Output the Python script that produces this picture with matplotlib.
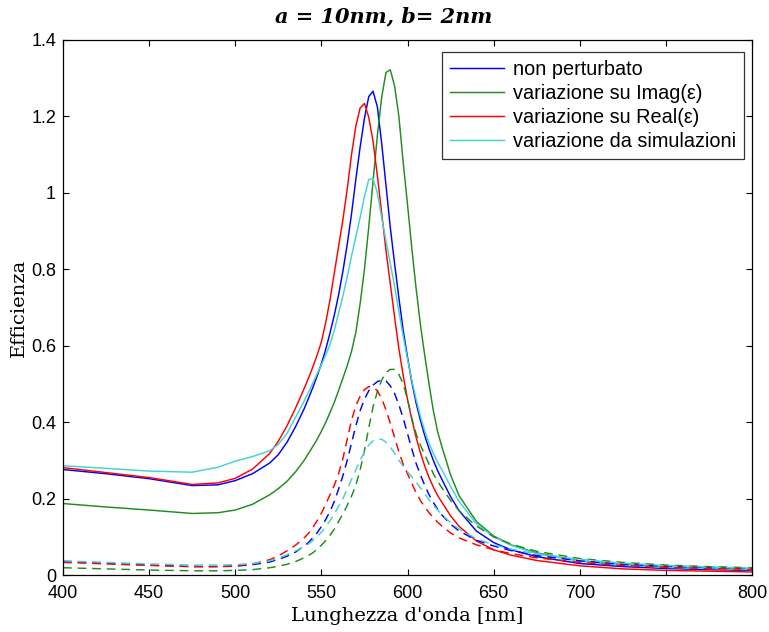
import matplotlib
matplotlib.use("Agg")
import matplotlib.pyplot as plt
from matplotlib.ticker import MultipleLocator

wl = [400, 425, 450, 475, 490, 500, 510,
      520, 525, 530, 535, 540,
      542.5, 545, 547.5, 550, 552.5, 555, 557.5, 560, 562.5, 565, 567.5, 570,
      572.5, 575, 577.5, 580, 582.5, 585, 587.5, 590, 592.5, 595, 597.5, 600,
      602.5, 605, 607.5, 610, 612.5, 615, 617.5, 620,
      625, 630, 640, 650, 660, 675,
      700, 725, 750, 775, 800]

# ---- solid curves ----
blue_solid = [0.276, 0.265, 0.252, 0.234, 0.236, 0.247, 0.265,
              0.293, 0.315, 0.347, 0.388, 0.435,
              0.462, 0.49, 0.52, 0.553, 0.59, 0.633, 0.68, 0.733, 0.795, 0.865, 0.945, 1.035,
              1.12, 1.195, 1.252, 1.266, 1.225, 1.13, 1.02, 0.91, 0.815, 0.725, 0.64, 0.57,
              0.505, 0.45, 0.405, 0.365, 0.33, 0.30, 0.273, 0.25,
              0.205, 0.168, 0.115, 0.085, 0.066, 0.048,
              0.03, 0.022, 0.017, 0.014, 0.012]
green_solid = [0.187, 0.178, 0.17, 0.161, 0.163, 0.17, 0.185,
               0.21, 0.226, 0.245, 0.27, 0.30,
               0.318, 0.336, 0.355, 0.376, 0.399, 0.425, 0.452, 0.483, 0.515, 0.548, 0.585, 0.635,
               0.71, 0.80, 0.91, 1.03, 1.15, 1.25, 1.315, 1.322, 1.28, 1.2, 1.08, 0.97,
               0.855, 0.75, 0.655, 0.575, 0.50, 0.43, 0.375, 0.335,
               0.262, 0.207, 0.14, 0.102, 0.079, 0.058,
               0.037, 0.027, 0.021, 0.018, 0.015]
red_solid = [0.281, 0.268, 0.255, 0.237, 0.241, 0.253, 0.277,
             0.318, 0.35, 0.39, 0.437, 0.488,
             0.515, 0.544, 0.575, 0.61, 0.66, 0.72, 0.79, 0.86, 0.93, 1.01, 1.10, 1.175,
             1.222, 1.234, 1.198, 1.135, 1.045, 0.947, 0.85, 0.762, 0.675, 0.592, 0.522, 0.46,
             0.407, 0.36, 0.32, 0.285, 0.255, 0.23, 0.208, 0.19,
             0.155, 0.127, 0.089, 0.066, 0.052, 0.038,
             0.024, 0.016, 0.012, 0.01, 0.008]
cyan_solid = [0.286, 0.279, 0.272, 0.269, 0.282, 0.298, 0.31,
              0.325, 0.342, 0.37, 0.413, 0.455,
              0.478, 0.502, 0.526, 0.55, 0.575, 0.603, 0.64, 0.685, 0.73, 0.78, 0.835, 0.885,
              0.935, 0.99, 1.035, 1.037, 1.0, 0.935, 0.875, 0.815, 0.755, 0.69, 0.625, 0.565,
              0.51, 0.46, 0.415, 0.377, 0.345, 0.318, 0.295, 0.275,
              0.232, 0.192, 0.134, 0.1, 0.078, 0.056,
              0.036, 0.026, 0.02, 0.017, 0.014]

# ---- dashed curves ----
blue_dash = [0.036, 0.031, 0.026, 0.022, 0.022, 0.023, 0.027,
             0.034, 0.041, 0.049, 0.06, 0.076,
             0.085, 0.097, 0.11, 0.127, 0.145, 0.167, 0.192, 0.225, 0.26, 0.30, 0.345, 0.39,
             0.43, 0.46, 0.482, 0.497, 0.506, 0.51, 0.508, 0.495, 0.475, 0.445, 0.41, 0.37,
             0.33, 0.292, 0.262, 0.235, 0.21, 0.19, 0.172, 0.157,
             0.133, 0.115, 0.091, 0.076, 0.064, 0.051,
             0.037, 0.028, 0.023, 0.02, 0.017]
green_dash = [0.019, 0.016, 0.013, 0.011, 0.011, 0.012, 0.014,
              0.019, 0.023, 0.028, 0.035, 0.045,
              0.051, 0.058, 0.067, 0.078, 0.09, 0.104, 0.12, 0.14, 0.16, 0.182, 0.206, 0.235,
              0.275, 0.325, 0.385, 0.44, 0.48, 0.51, 0.53, 0.538, 0.538, 0.525, 0.50, 0.46,
              0.41, 0.37, 0.34, 0.315, 0.29, 0.265, 0.245, 0.228,
              0.195, 0.168, 0.128, 0.1, 0.081, 0.062,
              0.043, 0.033, 0.026, 0.022, 0.019]
red_dash = [0.033, 0.029, 0.025, 0.022, 0.022, 0.024, 0.029,
            0.04, 0.05, 0.063, 0.078, 0.097,
            0.109, 0.124, 0.142, 0.162, 0.185, 0.21, 0.235, 0.265, 0.305, 0.355, 0.405, 0.443,
            0.468, 0.485, 0.493, 0.492, 0.482, 0.462, 0.432, 0.397, 0.36, 0.322, 0.29, 0.265,
            0.24, 0.215, 0.195, 0.178, 0.163, 0.15, 0.138, 0.128,
            0.11, 0.097, 0.079, 0.066, 0.056, 0.045,
            0.033, 0.025, 0.02, 0.017, 0.015]
cyan_dash = [0.037, 0.033, 0.029, 0.026, 0.026, 0.027, 0.03,
             0.037, 0.044, 0.053, 0.063, 0.074,
             0.081, 0.09, 0.1, 0.112, 0.126, 0.142, 0.16, 0.18, 0.20, 0.225, 0.25, 0.275,
             0.30, 0.322, 0.34, 0.351, 0.356, 0.355, 0.348, 0.335, 0.318, 0.30, 0.285, 0.27,
             0.257, 0.243, 0.228, 0.212, 0.197, 0.183, 0.17, 0.158,
             0.137, 0.12, 0.095, 0.079, 0.068, 0.055,
             0.041, 0.031, 0.025, 0.021, 0.018]

labels = ["non perturbato", "variazione su Imag(\u03b5)",
          "variazione su Real(\u03b5)", "variazione da simulazioni"]
colors = ["#0000ff", "#1e8c1e", "#ff0000", "#45d2d2"]

W, H = 769, 632
fig = plt.figure(figsize=(W/100, H/100), dpi=100)
ax = fig.add_axes([63/W, 57/H, (752-63)/W, (575-40)/H])

solids = [blue_solid, green_solid, red_solid, cyan_solid]
dashes = [blue_dash, green_dash, red_dash, cyan_dash]
for ys, c, lab in zip(solids, colors, labels):
    ax.plot(wl, ys, color=c, lw=1.05, label=lab)
for ys, c in zip(dashes, colors):
    ax.plot(wl, ys, color=c, lw=1.05, linestyle=(0, (6, 4)))

ax.set_xlim(400, 800)
ax.set_ylim(0, 1.4)
ax.xaxis.set_major_locator(MultipleLocator(50))
ax.set_yticks([0, 0.2, 0.4, 0.6, 0.8, 1.0, 1.2, 1.4])
ax.set_yticklabels(["0", "0.2", "0.4", "0.6", "0.8", "1", "1.2", "1.4"])
ax.tick_params(which='major', direction='in', top=True, right=True,
               length=4.5, width=0.8, labelsize=13)
ax.tick_params(axis='x', pad=7)
ax.tick_params(axis='y', pad=5)
for lbl in ax.get_xticklabels() + ax.get_yticklabels():
    lbl.set_family("Liberation Sans")
for sp in ax.spines.values():
    sp.set_linewidth(0.9)

ax.set_xlabel("Lunghezza d'onda [nm]", family="DejaVu Serif", fontsize=14, labelpad=4)
ax.set_ylabel("Efficienza", family="DejaVu Serif", fontsize=14, labelpad=2)
fig.text(384/W, 1 - 16/H, "a = 10nm, b= 2nm", family="DejaVu Serif", style="italic",
         fontweight="bold", fontsize=15, ha="center", va="center")

leg = ax.legend(loc="upper right", bbox_to_anchor=(744/W, 1 - 52/H),
                bbox_transform=fig.transFigure, borderaxespad=0,
                frameon=True, fancybox=False, edgecolor="black",
                handlelength=2.7, handletextpad=0.45,
                labelspacing=0.24, borderpad=0.42,
                prop={"family": "Liberation Sans", "size": 14.3})
leg.get_frame().set_linewidth(0.9)

fig.savefig("out.png", dpi=100)
